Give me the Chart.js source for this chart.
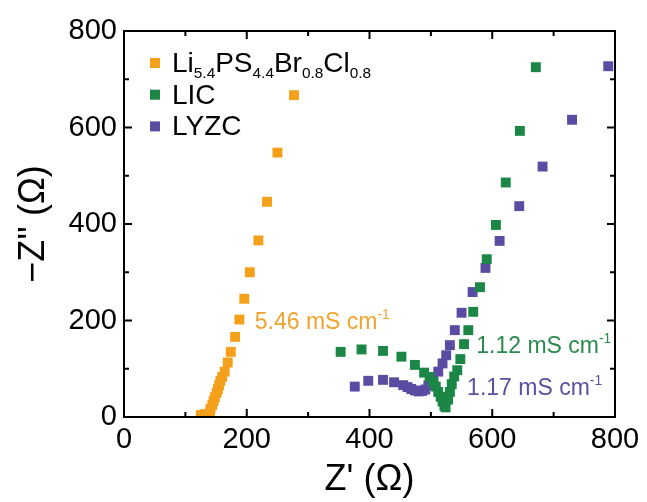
<!DOCTYPE html>
<html>
<head>
<meta charset="utf-8">
<script src="https://cdn.jsdelivr.net/npm/chart.js@4.4.0/dist/chart.umd.min.js"></script>
<style>
  html, body { margin: 0; padding: 0; background: #fff; }
  #wrap { width: 647px; height: 502px; }
</style>
</head>
<body>
<div id="wrap"><canvas id="eisChart"></canvas></div>
<script>
// Nyquist data, Z' and -Z'' in ohm
const lpsbcX = [125,132,140,141,144,146,148,151,153,155,157,160,164,169,174,181,188,196,205,219,233,250,277];
const lpsbcY = [4,6,10,17,25,33,41,50,58,66,75,83,94,113,135,166,202,245,300,366,446,548,667];
const licX = [353,387,422,452,474,489,498,504,508,512,516,519,522,524,528,531,534,538,543,548,554,561,569,580,591,606,622,645,671];
const licY = [135,140,137,125,108,92,83,73,63,52,42,32,23,20,36,52,68,84,97,120,151,180,218,269,327,398,486,593,725];
const lyzcX = [376,398,422,440,455,462,468,474,480,486,491,496,504,512,519,525,531,539,550,568,589,612,644,682,730,789];
const lyzcY = [63,75,77,72,66,62,58,55,53,54,57,66,80,94,111,128,149,180,216,259,309,365,437,519,616,727];

const frameTicks = [0,100,200,300,400,500,600,700,800];

const ORANGE = '#F5A01A';
const GREEN = '#1B8646';
const PURPLE = '#5A4BA3';
const FONT = '"Liberation Sans", Arial, Helvetica, sans-serif';

// legend rows: [text, 0=normal 1=sub 2=sup]
const legendRows = [
  { color: ORANGE, parts: [['Li',0],['5.4',1],['PS',0],['4.4',1],['Br',0],['0.8',1],['Cl',0],['0.8',1]] },
  { color: GREEN, parts: [['LIC',0]] },
  { color: PURPLE, parts: [['LYZC',0]] }
];

// conductivity notes, anchored in data units
const notes = [
  { x: 213, y: 200, color: '#F2A22E', parts: [['5.46 mS cm',0],['-1',2]] },
  { x: 574, y: 149, color: '#2A8A4E', parts: [['1.12 mS cm',0],['-1',2]] },
  { x: 559, y: 63, color: '#5B4FA0', parts: [['1.17 mS cm',0],['-1',2]] }
];

function pts(xs, ys) { return xs.map((x, i) => ({ x, y: ys[i] })); }

function drawRich(ctx, x, y, parts, color, size) {
  ctx.fillStyle = color;
  ctx.textBaseline = 'alphabetic';
  ctx.textAlign = 'left';
  let cx = x;
  parts.forEach(([t, k]) => {
    let s = size, dy = 0;
    if (k === 1) { s = size * 0.55; dy = size * 0.22; }
    if (k === 2) { s = size * 0.6; dy = -size * 0.42; }
    ctx.font = `${s}px ${FONT}`;
    ctx.fillText(t, cx, y + dy);
    cx += ctx.measureText(t).width;
  });
}

const boxPlugin = {
  id: 'boxPlugin',
  afterDraw(chart) {
    const { ctx, chartArea: { left, right, top, bottom }, scales: { x, y } } = chart;
    ctx.save();
    ctx.strokeStyle = '#000';
    ctx.lineWidth = 2;
    ctx.strokeRect(left, top, right - left, bottom - top);
    ctx.beginPath();
    frameTicks.forEach(v => {
      const len = v % 200 === 0 ? 8 : 5;
      const px = x.getPixelForValue(v);
      const py = y.getPixelForValue(v);
      ctx.moveTo(px, bottom); ctx.lineTo(px, bottom - len);
      ctx.moveTo(px, top); ctx.lineTo(px, top + len);
      ctx.moveTo(left, py); ctx.lineTo(left + len, py);
      ctx.moveTo(right, py); ctx.lineTo(right - len, py);
    });
    ctx.stroke();

    // legend
    legendRows.forEach((row, i) => {
      const base = top + 41 + i * 31.7;
      ctx.fillStyle = row.color;
      ctx.fillRect(left + 26, base - 14, 10, 10);
      drawRich(ctx, left + 48, base, row.parts, '#000', 28);
    });

    // notes
    notes.forEach(n => {
      const px = x.getPixelForValue(n.x);
      const py = y.getPixelForValue(n.y);
      drawRich(ctx, px, py + 8, n.parts, n.color, 23);
    });
    ctx.restore();
  }
};

new Chart(document.getElementById('eisChart'), {
  type: 'scatter',
  data: {
    datasets: [
      { label: 'Li5.4PS4.4Br0.8Cl0.8', data: pts(lpsbcX, lpsbcY), backgroundColor: ORANGE },
      { label: 'LIC', data: pts(licX, licY), backgroundColor: GREEN },
      { label: 'LYZC', data: pts(lyzcX, lyzcY), backgroundColor: PURPLE }
    ].map(d => Object.assign(d, { pointStyle: 'rect', pointRadius: 7, borderWidth: 0, showLine: false }))
  },
  options: {
    responsive: true,
    maintainAspectRatio: false,
    animation: false,
    layout: { padding: { top: 31, right: 32, left: 0, bottom: 0 } },
    plugins: { legend: { display: false }, tooltip: { enabled: false } },
    scales: {
      x: {
        type: 'linear', min: 0, max: 800,
        ticks: { stepSize: 200, color: '#000', font: { family: FONT, size: 29 }, padding: 6, maxRotation: 0 },
        grid: { display: false, drawTicks: false },
        border: { display: false },
        title: { display: true, text: "Z' (Ω)", color: '#000', font: { family: FONT, size: 36 }, padding: { top: 0, bottom: 0 } },
        afterFit: s => { s.height = 85; }
      },
      y: {
        type: 'linear', min: 0, max: 800,
        ticks: { stepSize: 200, color: '#000', font: { family: FONT, size: 29 }, padding: 7 },
        grid: { display: false, drawTicks: false },
        border: { display: false },
        title: { display: true, text: "\u2212Z'' (Ω)", color: '#000', font: { family: FONT, size: 36 }, padding: { top: 12, bottom: 0 } },
        afterFit: s => { s.width = 124; }
      }
    }
  },
  plugins: [boxPlugin]
});
</script>
</body>
</html>
